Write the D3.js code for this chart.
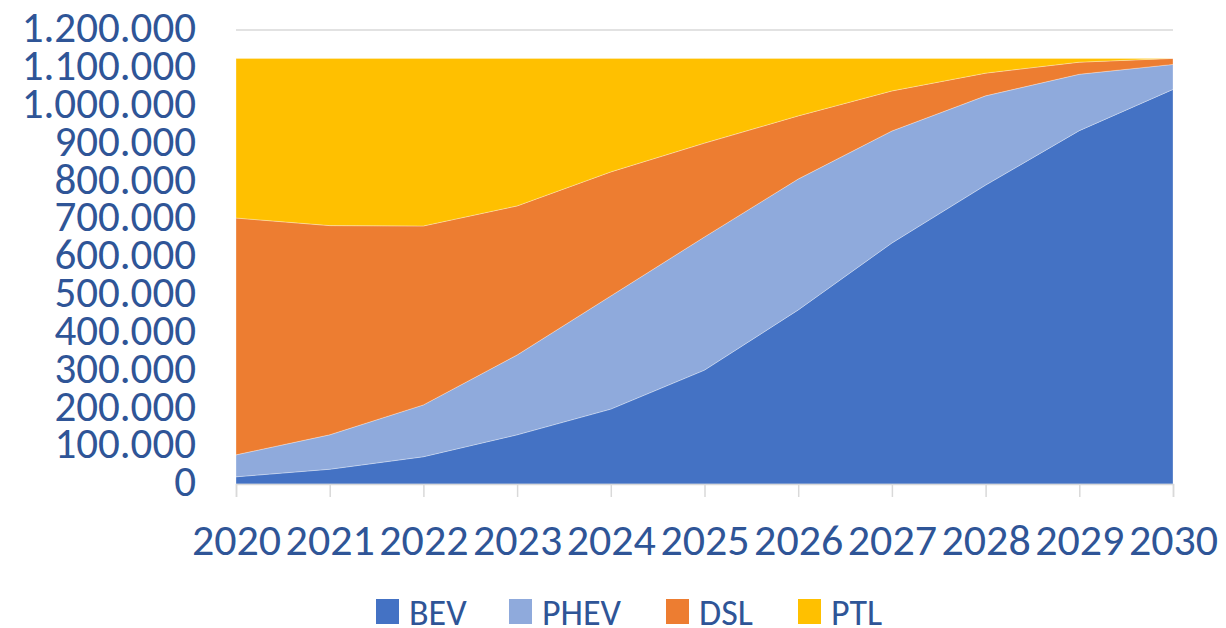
<!DOCTYPE html>
<html>
<head>
<meta charset="utf-8">
<script src="https://cdn.jsdelivr.net/npm/d3@7"></script>
<style>
  body { margin: 0; background: #fff; }
  svg text { font-family: Carlito, Calibri, "Liberation Sans Narrow", "Liberation Sans", sans-serif; fill: #2F5597; }
</style>
</head>
<body>
<svg id="chart"></svg>
<script>
const years = [2020, 2021, 2022, 2023, 2024, 2025, 2026, 2027, 2028, 2029, 2030];
const bev  = [19000, 39000, 72000, 130000, 198000, 301000, 460000, 637000, 790000, 934000, 1043000];
const phev = [58000, 91000, 137000, 211000, 299000, 352000, 346000, 296000, 236000, 149000, 66000];
const dsl  = [626000, 553000, 473000, 394000, 328000, 248000, 167000, 106000, 60000, 32000, 16000];
const ptl  = [422000, 442000, 443000, 390000, 300000, 224000, 152000, 86000, 39000, 10000, 0];
const seriesNames = ["BEV", "PHEV", "DSL", "PTL"];
const colors = ["#4472C4", "#8FAADC", "#ED7D31", "#FFC000"];
const yTicks = d3.range(0, 1200001, 100000);

const W = 1226, H = 628;
const x0 = 236, x1 = 1173, yTop = 30, yBase = 484;

const svg = d3.select("#chart").attr("width", W).attr("height", H);

const rows = years.map((y, i) => ({ year: y, BEV: bev[i], PHEV: phev[i], DSL: dsl[i], PTL: ptl[i] }));
const stacked = d3.stack().keys(seriesNames)(rows);

const xScale = d3.scalePoint().domain(years).range([x0, x1]);
const yScale = d3.scaleLinear().domain([0, 1200000]).range([yBase, yTop]);

const fmt = v => d3.format(",")(v).replace(/,/g, ".");

// gridlines
svg.append("g")
    .selectAll("line")
    .data(yTicks.slice(1))
    .enter().append("line")
    .attr("x1", x0).attr("x2", x1)
    .attr("y1", d => yScale(d)).attr("y2", d => yScale(d))
    .attr("stroke", "#d9d9d9")
    .attr("stroke-width", 1.5);

const area = d3.area()
    .x(d => xScale(d.data.year))
    .y0(d => yScale(d[0]))
    .y1(d => yScale(d[1]));

svg.append("g")
    .selectAll("path")
    .data(stacked)
    .enter().append("path")
    .attr("d", area)
    .attr("fill", (d, i) => colors[i])
    .attr("stroke", "#ffffff")
    .attr("stroke-opacity", 0.5)
    .attr("stroke-width", 0.6);

// x axis
const xAxis = svg.append("g")
    .attr("transform", `translate(0,${yBase})`)
    .call(d3.axisBottom(xScale).tickSize(13).tickPadding(27));
xAxis.select(".domain").attr("stroke", "#d9d9d9").attr("stroke-width", 1.5);
xAxis.selectAll(".tick line").attr("stroke", "#d9d9d9").attr("stroke-width", 1.5);
xAxis.selectAll(".tick text")
    .attr("fill", "#2F5597")
    .style("font-size", "44px")
    .attr("dy", "0.71em");

// y axis
const yAxis = svg.append("g")
    .attr("transform", `translate(${x0},-2)`)
    .call(d3.axisLeft(yScale).tickValues(yTicks).tickFormat(fmt).tickSize(0).tickPadding(40));
yAxis.select(".domain").remove();
yAxis.selectAll(".tick text")
    .attr("fill", "#2F5597")
    .style("font-size", "43px");

// legend
const legendX = [376, 509, 666, 798];
const legend = svg.append("g")
    .selectAll("g")
    .data(seriesNames)
    .enter().append("g")
    .attr("transform", (d, i) => `translate(${legendX[i]},599)`);
legend.append("rect")
    .attr("width", 23).attr("height", 25)
    .attr("fill", (d, i) => colors[i]);
legend.append("text")
    .attr("x", 33).attr("y", 13)
    .attr("dy", "0.35em")
    .style("font-size", "36px")
    .text(d => d);
</script>
</body>
</html>
